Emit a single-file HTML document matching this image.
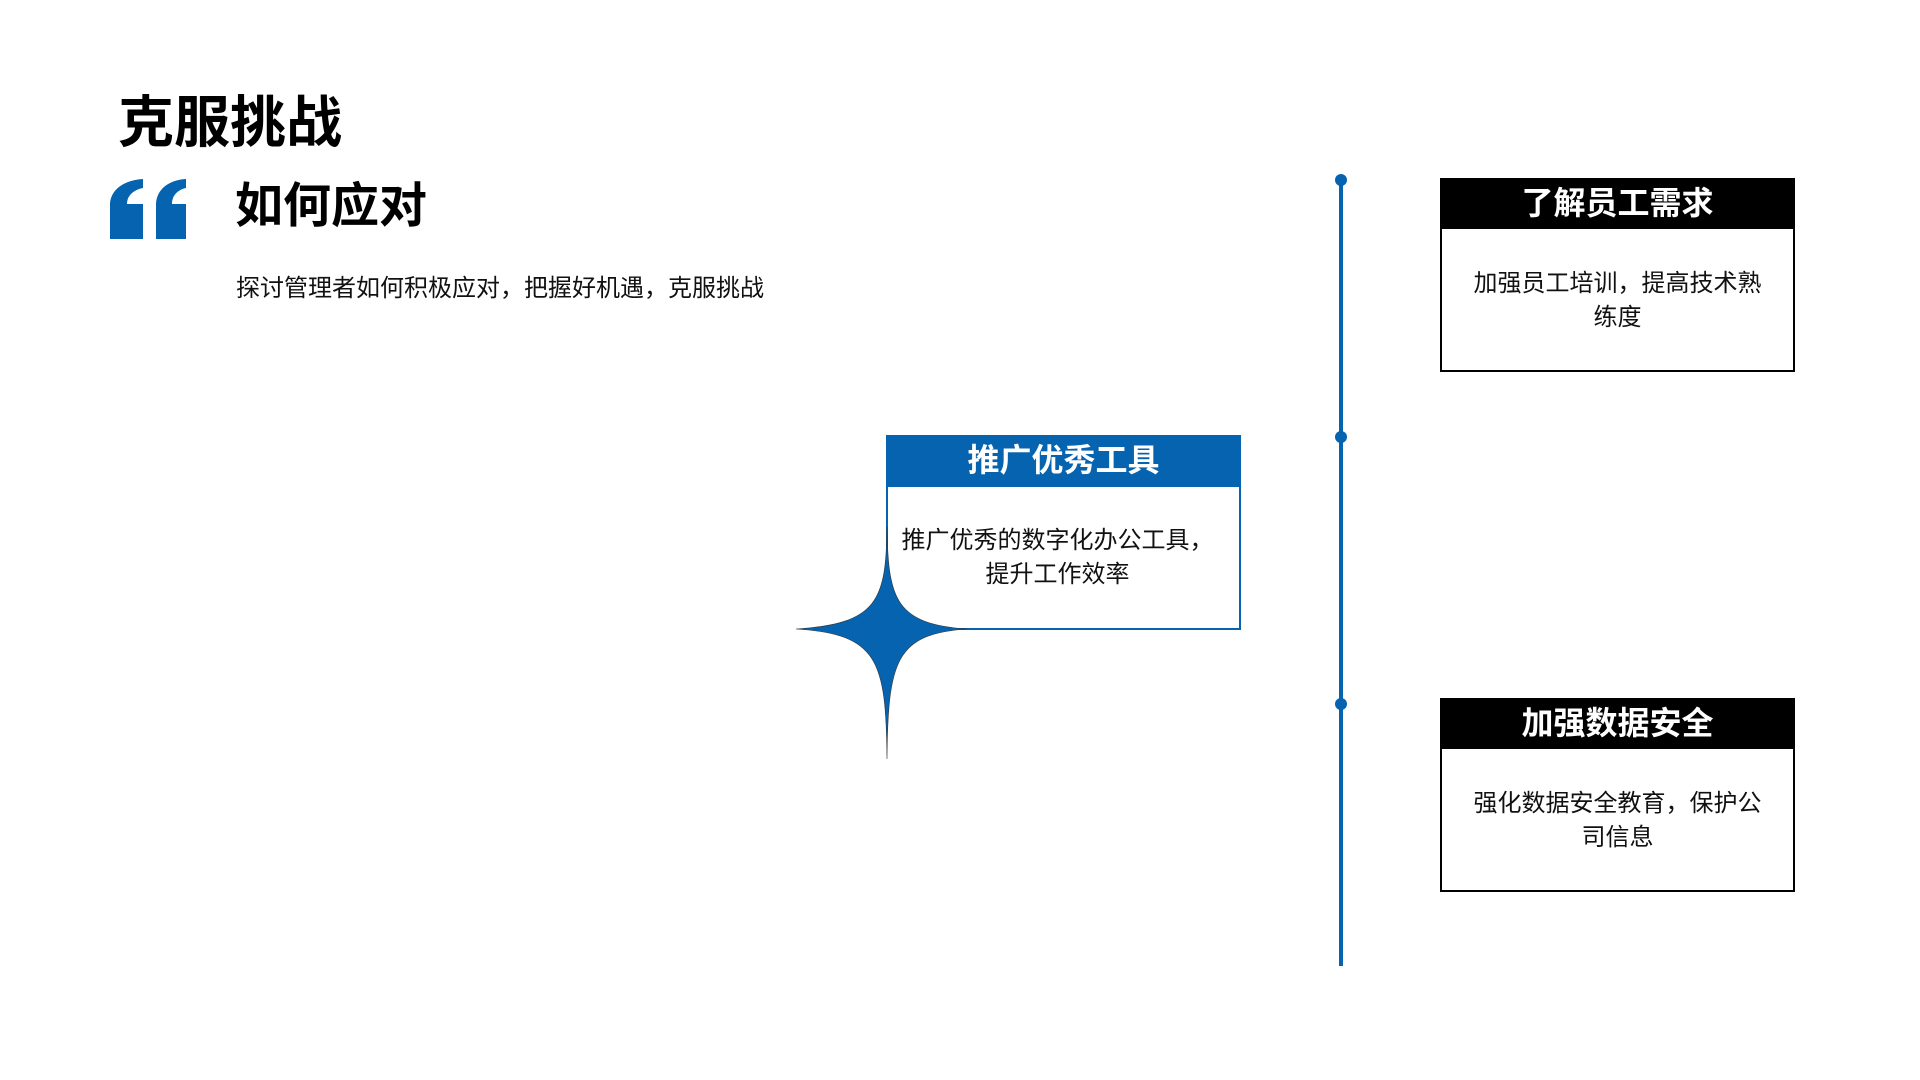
<!DOCTYPE html>
<html><head><meta charset="utf-8"><style>
body{margin:0;width:1920px;height:1080px;background:#fff;position:relative;overflow:hidden;font-family:"Liberation Sans","Noto Sans CJK SC",sans-serif;}
.a{position:absolute;white-space:nowrap;}
.box{position:absolute;box-sizing:border-box;background:#fff;}
.hd{position:absolute;left:0;top:0;right:0;color:#fff;font-weight:bold;font-size:32px;text-align:center;}
.bd{position:absolute;left:0;right:0;text-align:center;font-size:24px;line-height:34px;color:#111;}
</style></head><body>
<div class="a" style="left:118px;top:89px;font-size:56px;font-weight:bold;line-height:68px;">克服挑战</div>
<svg class="a" style="left:0;top:0" width="300" height="260">
<path d="M110 239 L110 205 C110 190 124 180 143 179 L143 188 C133 190 127 196 127 204 L143 204 L143 239 Z" fill="#0563B0"/>
<path d="M156 239 L156 205 C156 190 168 180 186 179 L186 188 C177 190 172 196 172 204 L186 204 L186 239 Z" fill="#0563B0"/>
</svg>
<div class="a" style="left:235px;top:179px;font-size:48px;font-weight:bold;line-height:56px;">如何应对</div>
<div class="a" style="left:236px;top:274px;font-size:24px;line-height:30px;color:#111;">探讨管理者如何积极应对，把握好机遇，克服挑战</div>
<div class="a" style="left:1339px;top:180px;width:4px;height:786px;background:#0563B0"></div>
<div class="a" style="left:1335px;top:174px;width:12px;height:12px;border-radius:6px;background:#0563B0"></div>
<div class="a" style="left:1335px;top:431px;width:12px;height:12px;border-radius:6px;background:#0563B0"></div>
<div class="a" style="left:1335px;top:698px;width:12px;height:12px;border-radius:6px;background:#0563B0"></div>

<div class="box" style="left:1440px;top:178px;width:355px;height:194px;border:2px solid #000;">
<div class="hd" style="background:#000;height:49px;line-height:46px;">了解员工需求</div>
<div class="bd" style="top:87px;">加强员工培训，提高技术熟<br>练度</div></div>

<div class="box" style="left:886px;top:435px;width:355px;height:195px;border:2px solid #0563B0;">
<div class="hd" style="background:#0563B0;height:50px;line-height:46px;">推广优秀工具</div>
<div class="bd" style="top:87px;padding-right:12px;">推广优秀的数字化办公工具，<br>提升工作效率</div></div>

<div class="box" style="left:1440px;top:698px;width:355px;height:194px;border:2px solid #000;">
<div class="hd" style="background:#000;height:49px;line-height:46px;">加强数据安全</div>
<div class="bd" style="top:87px;">强化数据安全教育，保护公<br>司信息</div></div>

<svg class="a" style="left:0;top:0" width="1100" height="800">
<path d="M887 527 C888 600 896 624 967 629 C896 634 888 660 887 759 C886 660 878 634 796 629 C878 624 886 600 887 527 Z" fill="#0563B0" stroke="#333" stroke-width="0.6"/>
</svg>
</body></html>
